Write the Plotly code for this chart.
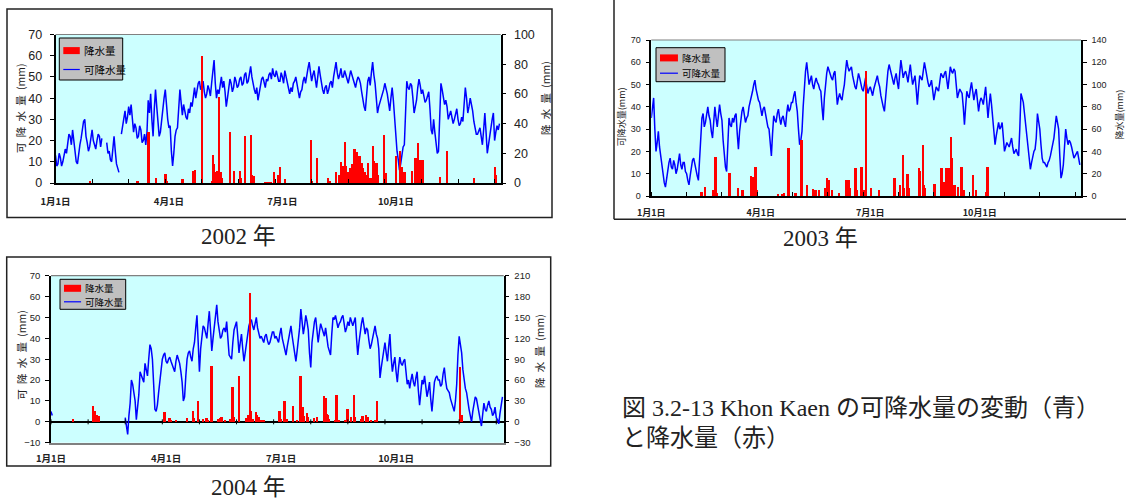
import plotly.graph_objects as go

W, H = 1126, 500

# ---------------- data ----------------
# daily precipitable water (mm), index 0 = 1 Jan; None = missing day
pw_2002 = [
    13, 8, 9, 14, 12, 8, 10, 13, 16, 14, 19, 23, 22, 18, 25, 20, 14, 10, 9, 15,
    18, 21, 25, 29, 30, 22, 19, 15, 17, 21, 25, 20, 18, 16, 20, 23, 22, 17, 21, None,
    None, None, 19, 14, 15, 11, 10, 17, 22, 15, 9, 7, 5, None, 23, 27, 30, 34, 28, 31,
    36, 32, 37, 30, 24, 28, 26, 21, 22, 27, 25, 19, 20, 23, 18, 24, 39, 33, 42, 30,
    22, 35, 44, 36, 28, 22, 24, 30, 35, 40, 44, 36, 30, 26, 27, 15, 8, 14, 22, 25,
    26, 35, 44, 38, 32, 37, 34, 31, 30, 35, 33, 38, 36, 42, 45, 40, 44, 47, 48, 44,
    45, 48, 43, 40, 42, 46, 44, 41, 47, 52, 58, 47, 40, 44, 42, 46, 50, 45, 48, 43,
    36, 40, 44, 49, 47, 43, 45, 50, 48, 45, 46, 49, 50, 46, 47, 51, 52, 47, 48, 51,
    55, 50, 46, 44, 42, 45, 39, 43, 47, 49, 50, 47, 45, 49, 48, 51, 52, 49, 54, 51,
    50, 53, 51, 48, 48, 52, 50, 47, 53, 50, 47, 44, 42, 45, 43, 47, 48, 50, 46, 43,
    40, 43, 44, 48, 50, 47, 52, 54, 57, 52, 48, 51, 53, 49, 45, 50, 55, 51, 47, 44,
    42, 45, 46, 42, 44, 47, 48, 45, 50, 53, 57, 52, 49, 51, 54, 50, 50, 53, 51, 48,
    47, 50, 53, 51, 49, 46, 45, 48, 50, 49, 47, 43, 39, 36, 34, 41, 48, 50, 46, 52,
    57, 51, 47, 40, 33, 36, 38, 40, 41, 44, 47, 45, 42, 38, 34, 40, 45, 39, 31, 22,
    15, 11, 6, 9, 13, 17, 18, 33, 48, 45, 44, 47, 46, 40, 33, 36, 39, 45, 49, 46,
    42, 44, 40, 38, 39, 41, 43, 35, 25, 23, 30, 24, 17, 14, 15, 30, 47, 44, 40, 37,
    39, 36, 30, 32, 34, 31, 28, 30, 33, 35, 30, 27, 28, 31, 29, 36, 45, 40, 33, 36,
    40, 37, 34, 29, 25, 23, 23, 25, 26, 22, 18, 25, 33, 24, 14, 18, 23, 26, 30, 33,
    20, 24, 27, 25, 28,
]
pw_2003 = [
    35, 40, 44, 30, 20, 24, 29, 22, 18, 12, 9, 6, 4, 8, 11, 15, 17, 13, 12, 16,
    14, 10, 12, 16, 19, 14, 12, 15, 15, 11, 10, 7, 5, 9, 13, 16, 17, 14, 11, 9,
    7, 18, 28, 35, 37, 31, 33, 38, 40, 36, 34, 29, 26, 33, 40, 35, 31, 36, 41, 37,
    34, 25, 18, 13, 11, 22, 35, 32, 31, 35, 33, 36, 37, 28, 21, 29, 35, 38, 40, 36,
    33, 35, 36, 40, 42, 45, 47, 50, 52, 48, 45, 43, 42, 38, 36, 39, 40, 37, 33, 31,
    30, 25, 18, 28, 36, 34, 33, 37, 39, 35, 32, 35, 36, 33, 31, 37, 41, 38, 39, 42,
    42, 45, 47, 42, 38, 30, 23, 25, 29, 40, 51, 56, 60, 54, 50, 52, 54, 50, 48, 51,
    53, 51, 50, 48, 47, 40, 34, 44, 52, 55, 58, 56, 55, 53, 52, 55, 56, 49, 41, 44,
    46, 44, 43, 47, 50, 56, 61, 58, 56, 57, 58, 54, 51, 49, 48, 52, 55, 53, 50, 48,
    47, 50, 53, 49, 46, 48, 49, 47, 45, 48, 50, 52, 54, 51, 49, 45, 42, 40, 38, 44,
    51, 56, 59, 57, 54, 52, 50, 53, 55, 51, 48, 55, 61, 57, 53, 55, 56, 54, 51, 55,
    59, 54, 50, 52, 54, 48, 41, 48, 54, 53, 52, 56, 60, 57, 53, 51, 49, 50, 52, 47,
    43, 46, 49, 48, 47, 51, 55, 54, 53, 55, 56, 52, 48, 53, 58, 56, 55, 57, 56, 50,
    44, 46, 48, 47, 46, 40, 32, 40, 47, 45, 44, 48, 51, 47, 43, 46, 48, 43, 38, 42,
    44, 43, 41, 45, 49, 42, 35, 41, 46, 41, 36, 29, 23, 27, 31, 33, 30, 31, 33, 26,
    20, 22, 24, 23, 22, 24, 26, 22, 19, 20, 21, 19, 18, 30, 46, 44, 42, 37, 32, 26,
    20, 16, 12, 15, 18, 20, 21, 26, 37, 34, 30, 23, 17, 15, 15, 14, 13, 15, 16, 18,
    21, 24, 26, 31, 36, 33, 30, 18, 8, 10, 14, 22, 30, 26, 23, 25, 24, 22, 20, 17,
    18, 19, 20, 17, 14,
]
# 2004: only 1-2 Jan recorded before the series resumes on 1 Mar
pw_2004 = [5, 3] + [None] * 58 + [
    2, -3, -6, 3, 9, 20, 18, 14, 10, 1, 6, 13, 24, 22, 20, 19, 28, 24, 22, 30,
    37, 35, 30, 18, 6, 5, 8, 14, 20, 25, 30, 32, 33, 29, 28, 30, 31, 29, 27, 25,
    24, 29, 32, 30, 28, 24, 19, 10, 12, 22, 30, 33, 34, 31, 29, 35, 38, 45, 51, 38,
    24, 35, 42, 46, 45, 42, 40, 47, 53, 44, 34, 40, 46, 52, 56, 48, 44, 40, 41, 44,
    45, 43, 48, 40, 32, 31, 30, 38, 44, 46, 48, 41, 33, 38, 42, 35, 29, 33, 38, 43,
    46, 48, 49, 46, 44, 47, 50, 45, 43, 40, 41, 39, 38, 41, 42, 39, 37, 38, 40, 43,
    43, 40, 41, 39, 38, 42, 45, 40, 37, 35, 32, 36, 40, 43, 46, 41, 36, 32, 29, 34,
    39, 45, 54, 47, 42, 46, 51, 48, 44, 33, 26, 38, 45, 48, 50, 44, 38, 43, 47, 45,
    43, 41, 45, 40, 36, 34, 32, 42, 50, 49, 51, 48, 45, 47, 48, 50, 51, 47, 43, 45,
    48, 46, 50, 48, 46, 48, 50, 40, 32, 38, 44, 47, 50, 46, 42, 45, 44, 39, 35, 37,
    40, 43, 46, 42, 40, 35, 21, 26, 30, 35, 38, 33, 29, 36, 42, 31, 24, 28, 31, 24,
    19, 26, 31, 28, 27, 29, 30, 24, 18, 20, 16, 20, 23, 19, 17, 21, 24, 15, 8, 14,
    20, 18, 22, 17, 12, 15, 19, 11, 5, 12, 19, 21, 22, 20, 20, 17, 18, 23, 26, 20,
    16, 15, 14, 11, 9, 6, 5, 10, 18, 32, 41, 37, 33, 25, 19, 16, 14, 9, 6, 3,
    0, 5, 9, 12, 11, 7, 5, 1, -2, 4, 9, 6, 5, 8, 10, 7, 6, 3, 4, 7,
    2, 1, -1, 4, 8, 12,
]

# daily rainfall (mm): day of year (0 = 1 Jan) and amount
rain_day_2002 = [28, 67, 76, 82, 90, 91, 104, 113, 114, 120, 128, 129, 130, 131, 132,
                 134, 135, 136, 143, 146, 151, 152, 155, 160, 161, 162, 172, 174, 176,
                 179, 182, 184, 188, 209, 210, 214, 223, 225, 230, 232, 234, 236, 237,
                 238, 240, 241, 242, 243, 245, 247, 248, 249, 251, 252, 253, 255, 256,
                 258, 260, 261, 263, 264, 269, 271, 279, 282, 284, 286, 292, 295, 297,
                 298, 299, 301, 315, 321, 343, 360, 361]
rain_2002 = [2, 2, 35, 3.5, 6.5, 2, 3, 8.5, 9, 86, 2, 19, 13, 8, 8.5,
             58, 8, 4, 35, 8.5, 8.5, 4, 32, 33, 6, 5, 1, 1, 1,
             8, 6, 11, 3, 29, 2, 17.5, 4, 2, 7.5, 6, 14.5, 12, 28,
             11.5, 7.5, 10.5, 8, 13, 23, 21, 17.5, 18.5, 14, 10.5, 8, 6, 13.5,
             4, 25, 15, 14, 6, 32.5, 7, 18.5, 22, 11, 8, 8.5, 17, 27,
             6, 15.7, 15.7, 4.5, 22, 3.5, 11, 6]

rain_day_2003 = [43, 46, 53, 55, 56, 67, 74, 78, 85, 87, 89, 90, 108, 112, 113,
                 117, 123, 128, 133, 138, 140, 143, 148, 150, 151, 154, 160, 166, 168,
                 169, 174, 175, 179, 181, 183, 187, 194, 207, 212, 214, 215, 218, 219,
                 228, 229, 231, 232, 233, 241, 247, 248, 249, 251, 253, 255, 256, 258,
                 261, 264, 265, 266, 274, 276, 285, 286]
rain_2003 = [4, 8.5, 5, 35, 2.5, 21, 7, 5, 18, 17, 26, 5, 2, 2, 2.5,
             43, 2.5, 50, 10, 6, 5, 5, 7.5, 16, 14.5, 5, 2.5, 14.5, 14,
             7, 25, 5, 26, 5, 112, 7, 5, 16, 10, 37, 7, 20, 7,
             25, 22, 46, 10, 7, 11, 25, 7, 13, 25, 25, 53, 34, 10,
             8.5, 26, 5, 5, 19, 5, 4, 26]

rain_day_2004 = [18, 34, 36, 37, 39, 92, 96, 97, 101, 110, 115, 116, 119, 123, 126,
                 127, 130, 135, 137, 138, 141, 145, 147, 148, 152, 158, 160, 161, 162,
                 163, 166, 167, 168, 170, 172, 185, 186, 189, 191, 196, 199, 202, 204,
                 205, 207, 208, 213, 215, 221, 222, 223, 224, 225, 230, 231, 233, 238,
                 240, 243, 245, 246, 251, 252, 255, 256, 259, 262, 264, 331, 332]
rain_2004 = [5, 23, 15.5, 10, 9, 14.5, 6, 3, 3, 6.5, 15.5, 6, 30, 5, 6,
             3, 81, 5, 6, 7, 3, 5, 50, 7, 67, 6, 10, 186, 15.5,
             5, 14.5, 10.5, 7, 3, 3, 15.5, 4, 31, 4, 23, 3, 66, 21.5,
             9, 13.5, 7, 6, 7, 37, 34, 11, 10, 4, 3, 38.5, 3, 3,
             19, 7, 39.5, 7, 5, 9, 10, 7, 3, 3, 31, 79, 10]

month_labels = ["1月1日", "4月1日", "7月1日", "10月1日"]
month_label_days = [0, 93, 186, 279]
year_labels = ["2002 年", "2003 年", "2004 年"]
legend_labels = ["降水量", "可降水量"]
caption_lines = ["図 3.2-13 Khon Kaen の可降水量の変動（青）", "と降水量（赤）"]

# ---------------- helpers ----------------
def fx(x):
    return x / W


def fy(y):
    return 1 - y / H


SANS = "Liberation Sans, Arial, Noto Sans CJK JP, sans-serif"
NARROW = "Liberation Sans Narrow, Liberation Sans, Arial, sans-serif"
CJK = "Noto Sans CJK JP, sans-serif"
SERIF = "Liberation Serif, Noto Sans CJK JP, serif"

BLUE = "#0000ff"
RED = "#ff0000"
CYAN = "#ccffff"

panels = [
    dict(pw=pw_2002, rd=rain_day_2002, rv=rain_2002, ndays=365,
         plot=(55.5, 34.5, 500.7, 183.0), yl=(0, 70, 10), yr=(0, 100, 20),
         frame=(7, 9, 552, 217.5), legend=(59.3, 38, 122.7, 80), lfont=10.5,
         ytick=dict(family=NARROW, size=12.5), xtick=9.5, ystand=5, xstand=9,
         ltitle=("可\u2002降\u2002水\u2002量\u2002(mm)", 21, 108, 10.5),
         rtitle=("降\u2002水\u2002量\u2002(mm)", 546, 98, 10.5),
         cap=(238, 236, 23)),
    dict(pw=pw_2003, rd=rain_day_2003, rv=rain_2003, ndays=365,
         plot=(651.3, 40.0, 1081.0, 196.0), yl=(0, 70, 10), yr=(0, 140, 20),
         frame=None, legend=(656, 47.7, 725, 81.7), lfont=9.5,
         ytick=dict(family=SANS, size=9), xtick=9, ystand=3, xstand=7,
         ltitle=("可降水量(mm)", 621.7, 116.5, 9),
         rtitle=("降水量(mm)", 1119.5, 115, 9),
         cap=(820, 238, 23)),
    dict(pw=pw_2004, rd=rain_day_2004, rv=rain_2004, ndays=366,
         plot=(51.0, 275.7, 503.7, 442.7), yl=(-10, 70, 10), yr=(-30, 210, 30),
         frame=(6.7, 257, 550.7, 466), legend=(60, 279.3, 125.7, 309.3), lfont=9.5,
         ytick=dict(family=SANS, size=9.5), xtick=9.5, ystand=3, xstand=6,
         ltitle=("可\u2002降\u2002水\u2002量\u2002(mm)", 20.7, 355, 10.5),
         rtitle=("降\u2002水\u2002量\u2002(mm)", 539, 351, 10.5),
         cap=(248, 487, 23)),
]

fig = go.Figure()
shapes, annotations = [], []
layout_axes = {}

for i, p in enumerate(panels):
    n = i + 1
    xa = "x" if n == 1 else f"x{n}"
    yl = f"y{2 * n - 1}" if n > 1 else "y"
    yr = f"y{2 * n}"
    x0, y0, x1, y1 = p["plot"]
    xdom = [fx(x0), fx(x1)]
    ydom = [fy(y1), fy(y0)]
    days = list(range(len(p["pw"])))

    fig.add_trace(go.Scatter(x=days, y=p["pw"], mode="lines", xaxis=xa, yaxis=yl,
                             line=dict(color=BLUE, width=1.5), connectgaps=False,
                             showlegend=False, hoverinfo="skip"))
    fig.add_trace(go.Bar(x=p["rd"], y=p["rv"], xaxis=xa, yaxis=yr, width=1.5,
                         marker=dict(color=RED, line=dict(width=0)),
                         showlegend=False, hoverinfo="skip"))

    below_zero = p["yl"][0] < 0
    xkey = "xaxis" if n == 1 else f"xaxis{n}"
    ylkey = "yaxis" if n == 1 else f"yaxis{2 * n - 1}"
    yrkey = f"yaxis{2 * n}"

    xaxis = dict(domain=xdom, range=[0, p["ndays"]], anchor=yl, automargin=False,
                 tickmode="array", tickvals=month_label_days, ticktext=month_labels,
                 ticks="", showgrid=False, zeroline=False, fixedrange=True,
                 tickfont=dict(family=CJK, size=p["xtick"], color="#222", weight="bold"),
                 ticklabelstandoff=p["xstand"], showline=True, linewidth=1.5,
                 linecolor="#808080" if below_zero else "black")
    if not below_zero:
        xaxis["minor"] = dict(tickmode="linear", tick0=0, dtick=30, ticks="inside",
                              ticklen=4, tickcolor="black", tickwidth=1, showgrid=False)
    layout_axes[xkey] = xaxis

    lo, hi, step = p["yl"]
    layout_axes[ylkey] = dict(domain=ydom, range=[lo, hi], anchor=xa, side="left",
                              automargin=False, tickmode="linear", tick0=lo, dtick=step,
                              ticks="outside", ticklen=4, tickcolor="black",
                              showline=True, linecolor="black", linewidth=1.5,
                              showgrid=False, zeroline=below_zero, zerolinecolor="black",
                              zerolinewidth=1.5, tickfont=dict(color="#222", **p["ytick"]),
                              ticklabelstandoff=p["ystand"], fixedrange=True)
    lo2, hi2, step2 = p["yr"]
    layout_axes[yrkey] = dict(range=[lo2, hi2], anchor=xa, overlaying=yl, side="right",
                              automargin=False, tickmode="linear", tick0=lo2, dtick=step2,
                              ticks="outside", ticklen=4, tickcolor="black",
                              showline=True, linecolor="black", linewidth=1.5,
                              showgrid=False, zeroline=False,
                              tickfont=dict(color="#222", **p["ytick"]),
                              ticklabelstandoff=p["ystand"], fixedrange=True)

    # day ticks on the zero line when the scale goes below zero
    if below_zero:
        for d in range(0, p["ndays"] + 1, 30):
            shapes.append(dict(type="line", xref=xa, yref=yl, x0=d, x1=d, y0=-1.2, y1=1.2,
                               line=dict(color="black", width=1)))

    # grey plot-area border on top
    shapes.append(dict(type="line", xref="paper", yref="paper", x0=fx(x0), x1=fx(x1),
                       y0=fy(y0), y1=fy(y0), line=dict(color="#808080", width=1.2)))

    # outer chart frame
    if p["frame"] is not None:
        a, b, c, d = p["frame"]
        shapes.append(dict(type="rect", xref="paper", yref="paper", x0=fx(a), x1=fx(c),
                           y0=fy(d), y1=fy(b), line=dict(color="#222", width=1.5)))
    else:
        shapes.append(dict(type="line", xref="paper", yref="paper", x0=fx(614), x1=fx(614),
                           y0=fy(219.3), y1=1.0, line=dict(color="#222", width=1.5)))
        shapes.append(dict(type="line", xref="paper", yref="paper", x0=fx(614), x1=1.0,
                           y0=fy(219.3), y1=fy(219.3), line=dict(color="#222", width=1.5)))

    # legend box
    lx0, ly0, lx1, ly1 = p["legend"]
    shapes.append(dict(type="rect", xref="paper", yref="paper", x0=fx(lx0), x1=fx(lx1),
                       y0=fy(ly1), y1=fy(ly0), fillcolor="#c0c0c0",
                       line=dict(color="black", width=1)))
    row1 = ly0 + (ly1 - ly0) * 0.3
    row2 = ly0 + (ly1 - ly0) * 0.75
    sw0, sw1 = lx0 + 4, lx0 + 4 + (lx1 - lx0) * 0.26
    shapes.append(dict(type="rect", xref="paper", yref="paper", x0=fx(sw0), x1=fx(sw1),
                       y0=fy(row1 + 3.5), y1=fy(row1 - 3.5), fillcolor=RED,
                       line=dict(width=0)))
    shapes.append(dict(type="line", xref="paper", yref="paper", x0=fx(sw0), x1=fx(sw1),
                       y0=fy(row2), y1=fy(row2), line=dict(color=BLUE, width=1.2)))
    for txt, ry in zip(legend_labels, (row1, row2)):
        annotations.append(dict(text=txt, xref="paper", yref="paper", x=fx(sw1 + 2),
                                y=fy(ry), xanchor="left", yanchor="middle", showarrow=False,
                                font=dict(family=CJK, size=p["lfont"], color="black")))

    # axis titles
    for txt, cx, cy, fs in (p["ltitle"], p["rtitle"]):
        annotations.append(dict(text=txt, xref="paper", yref="paper", x=fx(cx), y=fy(cy),
                                xanchor="center", yanchor="middle", textangle=-90,
                                showarrow=False, font=dict(family=CJK, size=fs, color="#222")))

    # year caption under the chart
    cx, cy, fs = p["cap"]
    annotations.append(dict(text=year_labels[i], xref="paper", yref="paper", x=fx(cx),
                            y=fy(cy), xanchor="center", yanchor="middle", showarrow=False,
                            font=dict(family=SERIF, size=fs, color="#222")))

# figure caption
for txt, cy in zip(caption_lines, (408, 438)):
    annotations.append(dict(text=txt, xref="paper", yref="paper", x=fx(620), y=fy(cy),
                            xanchor="left", yanchor="middle", showarrow=False,
                            font=dict(family=SERIF, size=24, color="#222")))

fig.update_layout(
    width=W, height=H, margin=dict(l=0, r=0, t=0, b=0),
    paper_bgcolor="white", plot_bgcolor=CYAN,
    showlegend=False, barmode="overlay", bargap=0,
    shapes=shapes, annotations=annotations,
    **layout_axes,
)

fig.write_html("out.html", config={"displayModeBar": False})
